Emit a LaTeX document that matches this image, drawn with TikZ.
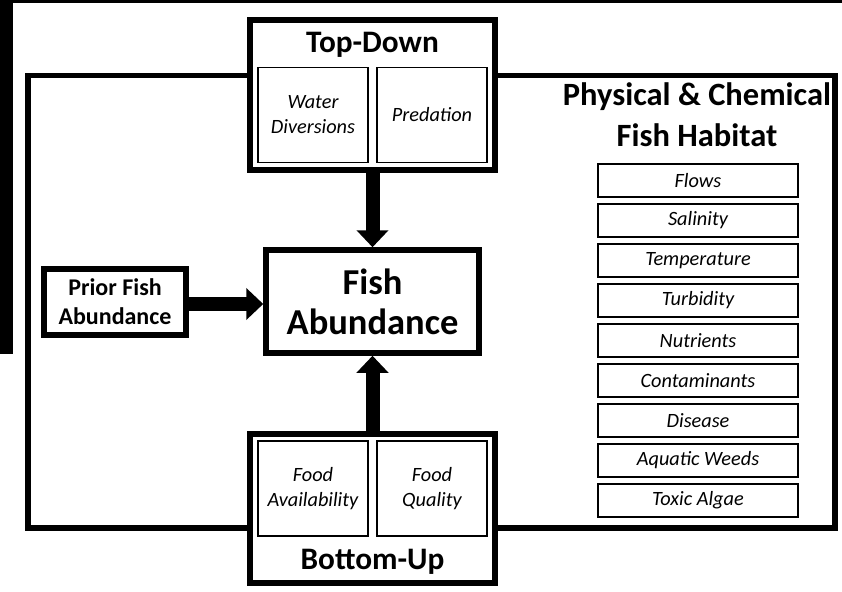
\documentclass[tikz,border=0pt]{standalone}
\usepackage{fontspec}
\setmainfont{Carlito}
\usetikzlibrary{arrows.meta}
\begin{document}
\begin{tikzpicture}[x=1pt,y=-1pt,
  thickbox/.style={draw=black, line width=5.5pt, fill=white, inner sep=0pt, align=center},
  thinbox/.style={draw=black, line width=1.5pt, fill=white, inner sep=0pt, align=center,
     font=\fontsize{20.3}{25}\selectfont\itshape},
  habbox/.style={thinbox, minimum width=200pt, minimum height=33pt},
  pairbox/.style={thinbox, minimum width=110pt, minimum height=95pt},
  bigtitle/.style={font=\fontsize{31.3}{36}\selectfont\bfseries, inner sep=0pt, anchor=base},
  fatarrow/.style={line width=14pt, -{Triangle[length=17pt,width=31pt]}},
  frameline/.style={line width=5.5pt}
]
\useasboundingbox (0,0) rectangle (842,591);
% scan borders
\fill[black] (0,0) rectangle (842,3);
\fill[black] (0,0) rectangle (13,354);
% outer frame
\coordinate (fa) at (28,75.5);
\coordinate (fb) at (835,528);
\draw[frameline] (fa) rectangle (fb);
% top-down
\node[thickbox, minimum width=245pt, minimum height=150pt] (td) at (372.5,95) {};
\node[bigtitle] (tdt) at (372.5,53) {Top-Down};
\node[pairbox] (wd) at (313,115) {Water\\Diversions};
\node[pairbox] (pr) at (432,115) {Predation};
% bottom-up
\node[thickbox, minimum width=245pt, minimum height=149pt] (bu) at (372.5,508.5) {};
\node[bigtitle] (but) at (372.5,569) {Bottom-Up};
\node[pairbox] (fav) at (313,488.5) {Food\\Availability};
\node[pairbox] (fq) at (432,488.5) {Food\\Quality};
% fish abundance
\node[thickbox, minimum width=213pt, minimum height=103pt,
      font=\fontsize{36.5}{40}\selectfont\bfseries] (fish) at (372.5,301.5) {Fish\\Abundance};
% prior
\node[thickbox, minimum width=142pt, minimum height=66pt,
      font=\fontsize{24}{29}\selectfont\bfseries] (prior) at (115,302) {Prior Fish\\Abundance};
% arrows
\draw[fatarrow] (td.south) -- (fish.north);
\draw[fatarrow] (bu.north) -- (fish.south);
\draw[fatarrow] (prior.east |- 0,304) -- (fish.west |- 0,304);
% habitat
\node[bigtitle, font=\fontsize{32.5}{36}\selectfont\bfseries] (ph1) at (697,106) {Physical \& Chemical};
\node[bigtitle, font=\fontsize{32.5}{36}\selectfont\bfseries] (ph2) at (697,146) {Fish Habitat};
\foreach \t [count=\i from 0] in {Flows,Salinity,Temperature,Turbidity,Nutrients,Contaminants,Disease,Aquatic Weeds,Toxic Algae}{
  \node[habbox] (h\i) at (698,{180.5+40*\i}) {\t};
}
\end{tikzpicture}
\end{document}
